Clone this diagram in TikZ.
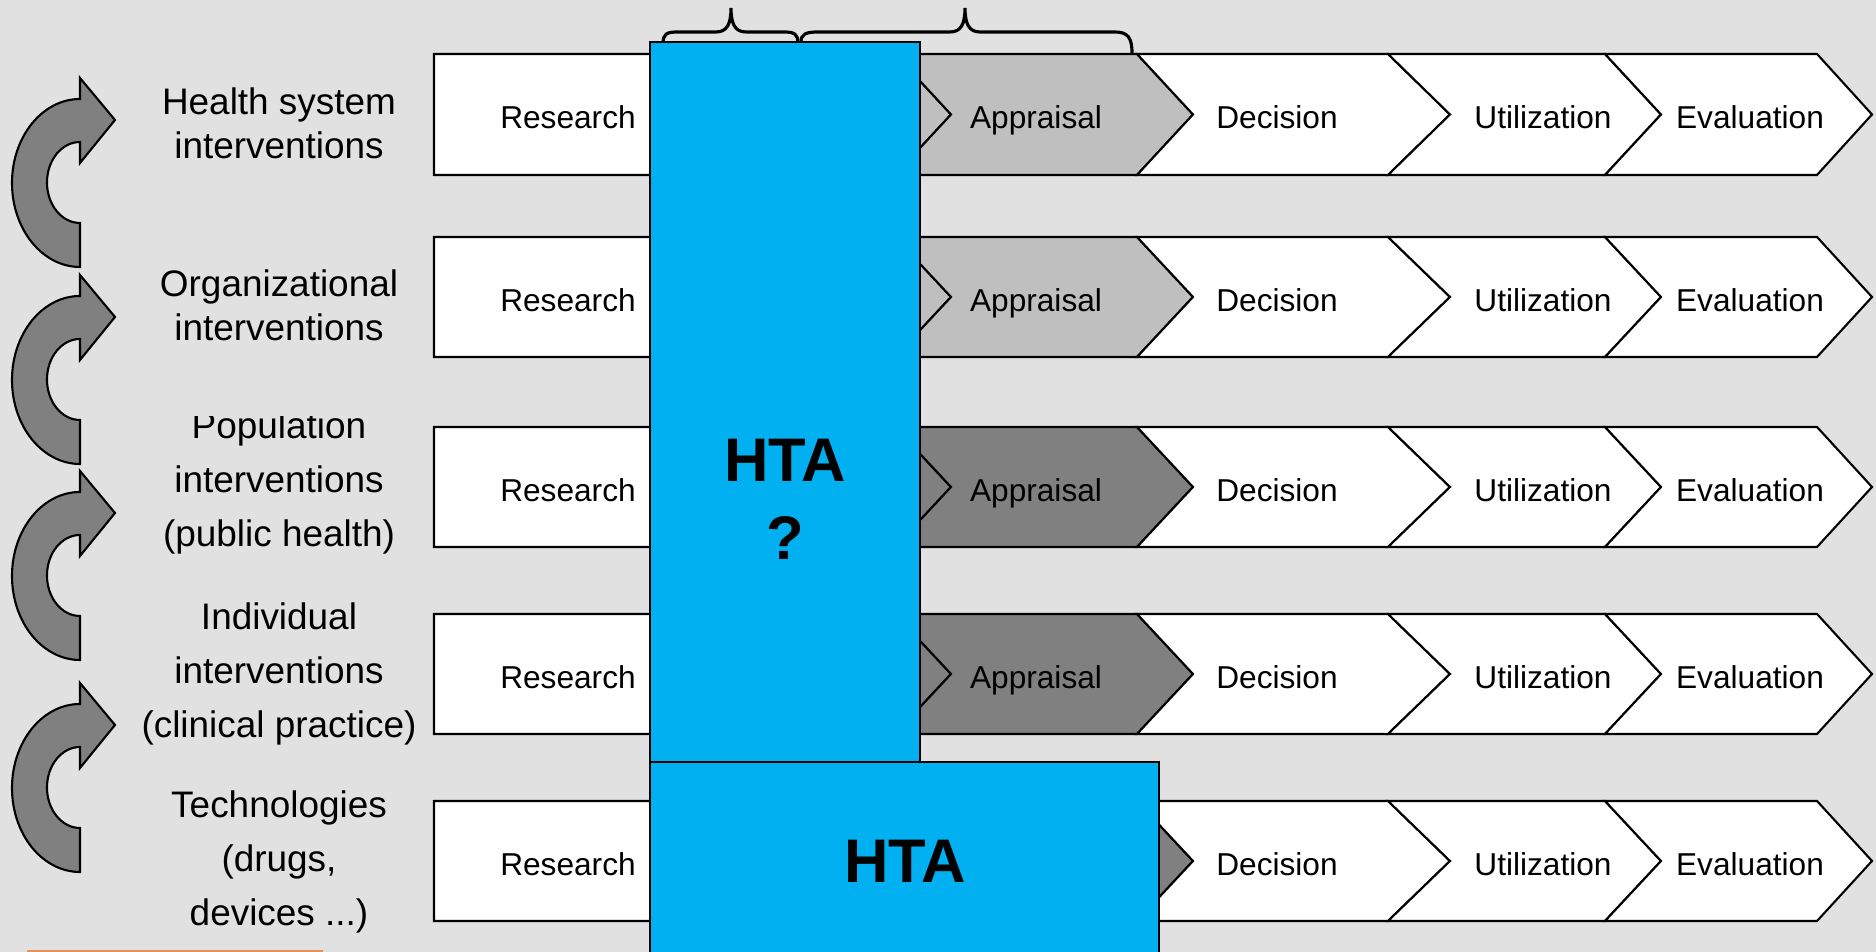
\documentclass[tikz,border=0pt]{standalone}
\usepackage{fontspec}
\setmainfont{Liberation Sans}
\definecolor{bgc}{RGB}{225,225,225}
\definecolor{apLight}{RGB}{191,191,191}
\definecolor{apDark}{RGB}{128,128,128}
\definecolor{htablue}{RGB}{0,176,240}
\definecolor{footline}{RGB}{232,145,85}
\begin{document}
\begin{tikzpicture}[x=0.01cm,y=0.01cm,
  chev/.style={draw=black, line width=0.6pt, line join=miter},
  stagetext/.style={font=\fontsize{9}{11}\selectfont, inner sep=0pt, text height=6.4pt, text depth=0pt},
  rowlabel/.style={font=\fontsize{10.5}{12.5}\selectfont, align=center, inner sep=0pt},
  rowlabelthree/.style={font=\fontsize{10.5}{15.3}\selectfont, align=center, inner sep=0pt},
  loop arrow/.style={draw=black, line width=0.6pt, fill=apDark, line join=miter},
  htabox/.style={draw=black, line width=0.7pt, fill=htablue},
  htatext/.style={font=\fontsize{17.5}{22.2}\selectfont\bfseries, align=center, inner sep=0pt},
  bracepath/.style={draw=black, line width=0.9pt, line cap=round}]

% canvas
\useasboundingbox (0,0) rectangle (1876,952);
\clip (0,0) rectangle (1876,952);
\fill[bgc] (0,0) rectangle (1876,952);
\fill[footline] (27,0) rectangle (323,1.5);

% braces above the chain
\draw[bracepath] (663,908) .. controls (663,918) and (666,920) .. (678,920) -- (716,920)
  .. controls (727,920) and (731,928) .. (731,944)
  .. controls (731,928) and (735,920) .. (746,920) -- (783,920)
  .. controls (795,920) and (798,918) .. (798,908);
\draw[bracepath] (801,910) .. controls (801,918) and (806,920) .. (818,920) -- (950,920)
  .. controls (961,920) and (965,928) .. (965,944)
  .. controls (965,928) and (969,920) .. (980,920) -- (1115,920)
  .. controls (1128,920) and (1132,914) .. (1132,899);

% process chains
\foreach \r/\T/\B/\fc in {1/898/777/apLight,2/715/595/apLight,3/525/405/apDark,4/338/218/apDark,5/151/31/apDark}{
  \pgfmathsetmacro\M{(\T+\B)/2}
  \pgfmathsetmacro\L{\M-3}
  \draw[chev,fill=white] (434,\T) -- (760,\T) -- (816,\M) -- (760,\B) -- (434,\B) -- cycle;
  \draw[chev,fill=\fc] (760,\T) -- (895,\T) -- (951,\M) -- (895,\B) -- (760,\B) -- (816,\M) -- cycle;
  \draw[chev,fill=\fc] (895,\T) -- (1137,\T) -- (1193,\M) -- (1137,\B) -- (895,\B) -- (951,\M) -- cycle;
  \draw[chev,fill=white] (1137,\T) -- (1388,\T) -- (1450,\M) -- (1388,\B) -- (1137,\B) -- (1193,\M) -- cycle;
  \draw[chev,fill=white] (1388,\T) -- (1605,\T) -- (1661,\M) -- (1605,\B) -- (1388,\B) -- (1450,\M) -- cycle;
  \draw[chev,fill=white] (1605,\T) -- (1817,\T) -- (1872,\M) -- (1817,\B) -- (1605,\B) -- (1661,\M) -- cycle;
  \node[stagetext] (res\r) at (568,\L) {Research};
  \node[stagetext] (dec\r) at (1277,\L) {Decision};
  \node[stagetext] (uti\r) at (1543,\L) {Utilization};
  \node[stagetext] (eva\r) at (1750,\L) {Evaluation};
}
\foreach \r/\M in {1/834.5,2/652,3/462,4/275}{
  \node[stagetext] (app\r) at (1036,\M) {Appraisal};
}

% HTA blocks
\draw[htabox] (650,910) rectangle (920,190);
\node[htatext] (htaq) at (785,452.5) {HTA\\?};
\draw[htabox] (650,190) rectangle (1159,-20);
\node[htatext] (hta) at (905,91) {HTA};

% looping arrows on the left
\foreach \Yt in {832,635,439,227}{
  \draw[loop arrow] (115,\Yt) -- (80,\Yt+42) -- (80,\Yt+21)
    arc[start angle=90, end angle=270, x radius=68, y radius=84]
    -- (80,\Yt-103)
    arc[start angle=270, end angle=90, x radius=33, y radius=40.5]
    -- (80,\Yt-43) -- cycle;
}

% intervention levels
\node[rowlabel] (lvl1) at (279,828.5) {Health system\\interventions};
\node[rowlabel] (lvl2) at (279,647) {Organizational\\interventions};
\begin{scope}
  \clip (130,0) rectangle (430,535);
  \node[rowlabelthree] (lvl3) at (279,469) {Population\\interventions\\(public health)};
\end{scope}
\node[rowlabelthree] (lvl4) at (279,278) {Individual\\interventions\\(clinical practice)};
\node[rowlabelthree] (lvl5) at (279,90) {Technologies\\(drugs,\\devices ...)};
\end{tikzpicture}
\end{document}
